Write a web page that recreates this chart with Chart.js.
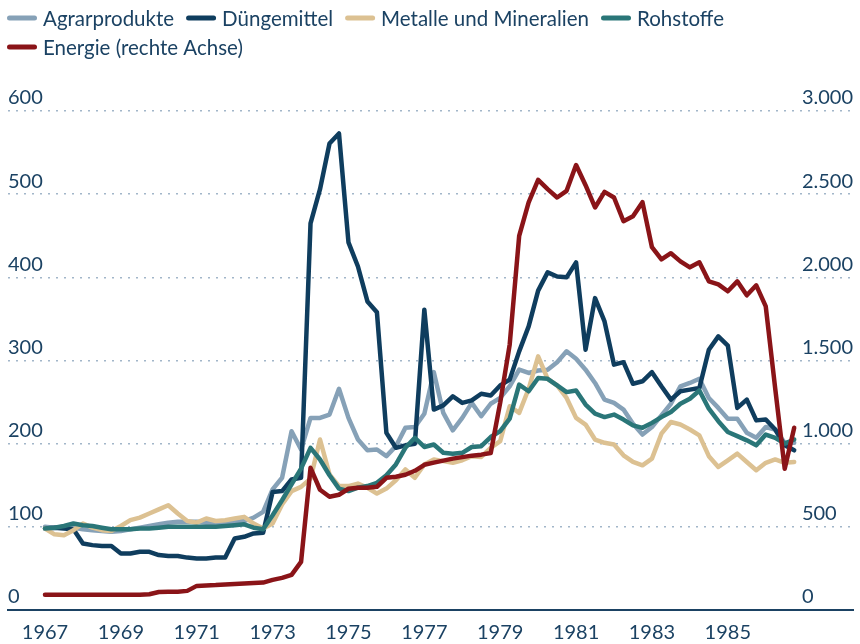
<!DOCTYPE html>
<html>
<head>
<meta charset="utf-8">
<script src="https://cdn.jsdelivr.net/npm/chart.js@4.4.1/dist/chart.umd.min.js"></script>
<style>
html,body{margin:0;padding:0;background:#ffffff;}
#wrap{width:860px;height:644px;}
</style>
</head>
<body>
<div id="wrap"><canvas id="c" width="860" height="644"></canvas></div>
<script>
// ---- data (quarterly, 1967 Q1 – 1986 Q4) ----
const startYear = 1967;
const quarterCount = 80;
const quarterTimes = Array.from({length: quarterCount}, (_, i) => startYear + i / 4);

const seriesNames = ['Agrarprodukte', 'Düngemittel', 'Metalle und Mineralien', 'Rohstoffe', 'Energie (rechte Achse)'];

const agrar = [
  100, 99,100, 99, 97, 96, 95, 94, 95, 97,
   99,101,103,105,106,106,106,105,104,104,
  106,107,111,118,145,159,215,193,231,231,
  235,266,231,205,192,193,185,197,219,220,
  236,286,237,216,231,249,233,248,255,269,
  289,285,288,289,298,311,302,289,273,253,
  249,241,224,211,220,234,248,269,273,278,
  255,243,230,230,213,207,220,217,201,201
];
const duenger = [
   98, 99, 98, 97, 80, 78, 77, 77, 68, 68,
   70, 70, 66, 65, 65, 63, 62, 62, 63, 63,
   86, 88, 92, 93,142,143,157,159,465,506,
  561,573,442,413,371,358,213,195,198,200,
  361,241,246,257,249,252,260,258,270,277,
  311,341,384,406,401,400,418,313,375,347,
  295,298,272,275,286,269,253,263,265,267,
  313,329,318,243,253,228,229,217,198,192
];
const metalle = [
   98, 91, 90, 96,104, 99, 96, 95,101,108,
  111,116,121,126,116,107,105,110,107,108,
  110,112,104, 98,104,127,143,148,158,205,
  163,149,149,152,147,140,146,156,169,159,
  175,181,179,177,180,185,184,195,203,245,
  237,266,305,278,270,255,231,223,205,201,
  199,186,178,174,182,212,226,223,217,210,
  185,172,180,188,178,168,177,181,177,178
];
const rohstoffe = [
   98, 99,101,104,102,101, 99, 97, 97, 97,
   98, 98, 99,100,100,100,100,100,100,101,
  102,103, 99, 97,114,132,151,170,195,181,
  162,146,143,147,149,153,162,175,195,207,
  196,199,189,188,189,196,197,208,215,230,
  271,263,279,278,270,262,264,247,236,232,
  235,229,222,219,225,232,238,248,254,264,
  242,227,214,209,204,198,211,207,200,205
];
const energie = [
    92, 92, 92, 92, 92, 92, 92, 92, 92, 92,
    92, 95,108,110,110,115,145,148,150,154,
   157,160,163,165,181,193,211,289,855,723,
   681,693,729,735,735,741,795,801,813,837,
   873,886,898,910,919,928,934,944,1247,1596,
  2249,2450,2586,2530,2480,2520,2675,2554,2420,2514,
  2480,2337,2367,2452,2181,2108,2145,2096,2060,2090,
  1976,1958,1916,1976,1892,1952,1825,1330,849,1096
];

const xTickYears = [1967, 1969, 1971, 1973, 1975, 1977, 1979, 1981, 1983, 1985];
const leftTicks = [0, 100, 200, 300, 400, 500, 600];
const rightTicks = [0, 500, 1000, 1500, 2000, 2500, 3000];

// ---- styling ----
const FONT = 'Lato';
const TEXT = '#1b4263';
const colors = ['#86a1b7', '#0f3d5e', '#dcc192', '#2a7678', '#8a1418'];

function fmtDe(v) {
  const s = String(Math.round(v));
  return s.replace(/\B(?=(\d{3})+(?!\d))/g, '.');
}
function pts(arr) { return arr.map((v, i) => ({x: quarterTimes[i], y: v})); }

const allSeries = [agrar, duenger, metalle, rohstoffe, energie];
const datasets = allSeries.map((arr, k) => ({
  label: seriesNames[k],
  data: pts(arr),
  borderColor: colors[k],
  backgroundColor: colors[k],
  borderWidth: 4.5,
  pointRadius: 0,
  tension: 0,
  borderJoinStyle: 'round',
  borderCapStyle: 'round',
  yAxisID: k === 4 ? 'y1' : 'y',
  order: 5 - k
}));

const legendPlugin = {
  id: 'topLegend',
  afterDraw(chart) {
    const ctx = chart.ctx;
    ctx.save();
    ctx.font = '20.5px ' + FONT;
    ctx.textBaseline = 'middle';
    let x = 7, y = 18;
    const rowH = 29, sw = 30, gapText = 6, gapItem = 12, maxX = chart.width - 5;
    chart.data.datasets.forEach((ds) => {
      const tw = ctx.measureText(ds.label).width;
      const w = sw + gapText + tw;
      if (x + w > maxX && x > 7) { x = 7; y += rowH; }
      ctx.strokeStyle = ds.borderColor;
      ctx.lineWidth = 5;
      ctx.lineCap = 'round';
      ctx.beginPath();
      ctx.moveTo(x + 2.5, y);
      ctx.lineTo(x + sw - 2.5, y);
      ctx.stroke();
      ctx.fillStyle = TEXT;
      ctx.textAlign = 'left';
      ctx.fillText(ds.label, x + sw + gapText, y + 1);
      x += w + gapItem;
    });
    ctx.restore();
  }
};

const bgPlugin = {
  id: 'bg',
  beforeDraw(chart) {
    const c = chart.ctx;
    c.save(); c.fillStyle = '#ffffff'; c.fillRect(0, 0, chart.width, chart.height); c.restore();
  }
};

new Chart(document.getElementById('c'), {
  type: 'line',
  data: {datasets},
  plugins: [bgPlugin, legendPlugin],
  options: {
    responsive: false,
    animation: false,
    devicePixelRatio: 1,
    layout: {padding: {top: 111, left: 8, right: 7, bottom: 0}},
    plugins: {legend: {display: false}, tooltip: {enabled: false}},
    scales: {
      x: {
        type: 'linear',
        min: 1966.025,
        max: 1988.3,
        grid: {display: false, drawTicks: false},
        border: {display: true, color: TEXT, width: 2},
        afterBuildTicks: (s) => { s.ticks = xTickYears.map(v => ({value: v})); },
        afterFit: (s) => { s.height = 34; },
        ticks: {
          padding: 11,
          color: TEXT,
          font: {family: FONT, size: 20},
          maxRotation: 0,
          autoSkip: false,
          callback: (v) => String(v)
        }
      },
      y: {
        position: 'left',
        min: 0, max: 600,
        afterBuildTicks: (s) => { s.ticks = leftTicks.map(v => ({value: v})); },
        grid: {color: '#a2b6c9', lineWidth: 1.5, drawTicks: false},
        border: {display: false, dash: [2, 6]},
        ticks: {
          mirror: true, padding: 0, labelOffset: -13,
          color: TEXT, font: {family: FONT, size: 20},
          callback: (v) => String(v)
        }
      },
      y1: {
        position: 'right',
        min: 0, max: 3000,
        afterBuildTicks: (s) => { s.ticks = rightTicks.map(v => ({value: v})); },
        grid: {display: false, drawTicks: false},
        border: {display: false},
        ticks: {
          mirror: true, padding: 0, labelOffset: -13, crossAlign: 'far',
          color: TEXT, font: {family: FONT, size: 20},
          callback: (v) => fmtDe(v)
        }
      }
    }
  }
});
</script>
</body>
</html>
